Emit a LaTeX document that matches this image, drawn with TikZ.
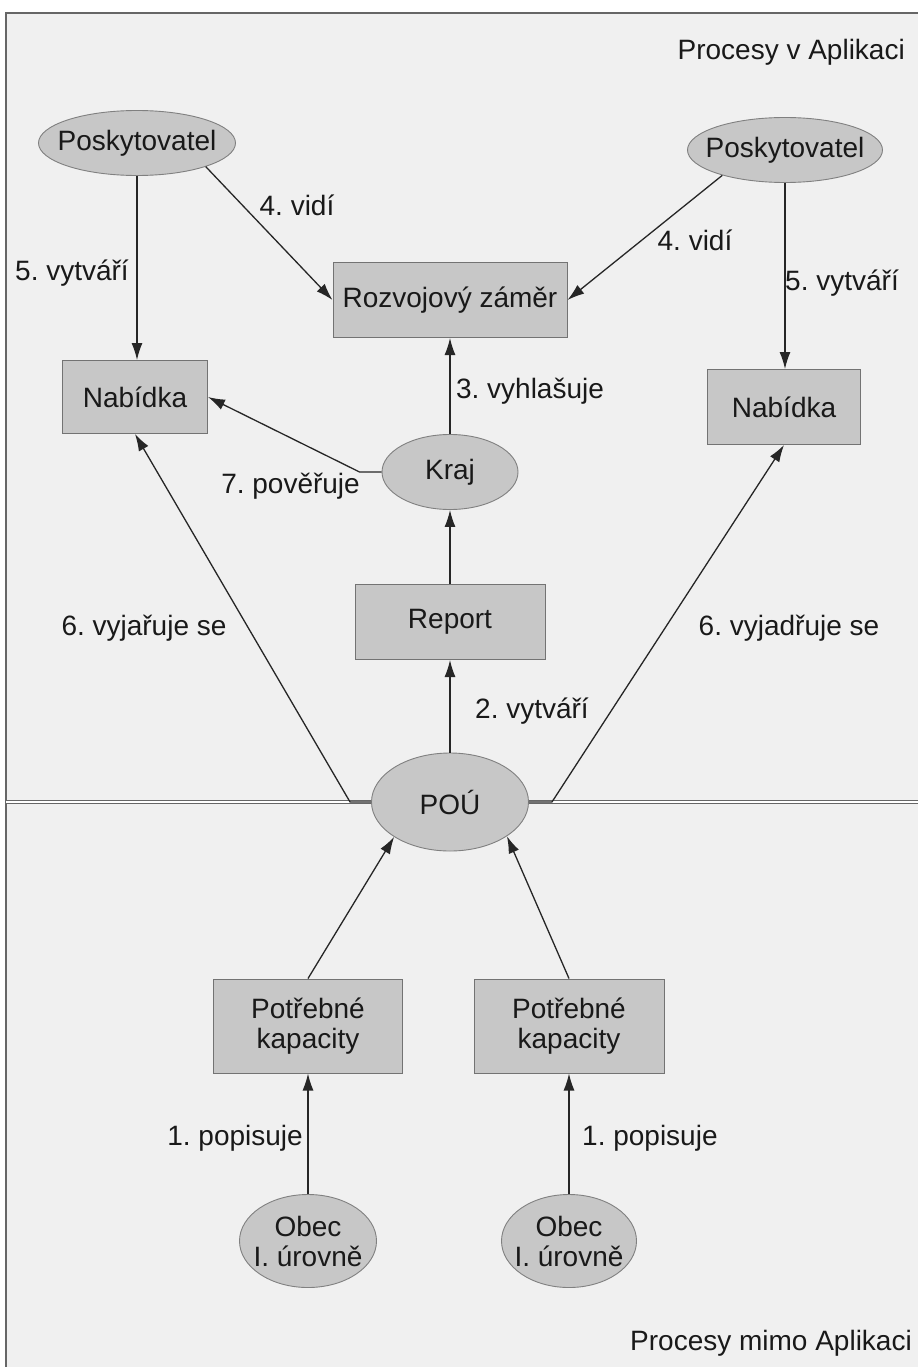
\documentclass[tikz,border=0pt]{standalone}
\usepackage{fontspec}
\setmainfont{Liberation Sans}
\frenchspacing
\usetikzlibrary{arrows.meta, shapes.geometric}

\tikzset{
  proc/.style = {ellipse, draw=black!50, line width=0.9pt, fill=black!22, inner sep=0pt},
  box/.style  = {rectangle, draw=black!55, line width=1pt, fill=black!22, inner sep=0pt, align=center},
  lbl/.style  = {inner sep=0pt, anchor=base},
  arr/.style  = {-{Latex[length=17pt,width=11pt]}, draw=black!85, line width=1.3pt},
}

\begin{document}
\begin{tikzpicture}[x=1pt, y=-1pt, font=\fontsize{28}{30}\selectfont, text=black!90]
\useasboundingbox (0,0) rectangle (918,1367);
% background and the border between the two parts
\fill[black!6] (6,13) rectangle (918,1367);
\draw[black!60, line width=1.2pt] (6,1367) -- (6,13) -- (918,13);
\draw[black!60, line width=1.1pt, double=white, double distance=2.2pt] (6,802) -- (918,802);

\node[lbl, anchor=base east] (tApp) at (905,60) {Procesy v Aplikaci};
\node[lbl, anchor=base east] (tOut) at (912,1350) {Procesy mimo Aplikaci};

% nodes
\node[proc, minimum width=197pt, minimum height=65pt, label=center:Poskytovatel] (posL) at (137,143) {};
\node[proc, minimum width=195pt, minimum height=65pt, label=center:Poskytovatel] (posR) at (785,150) {};
\node[box, minimum width=234pt, minimum height=75pt] (roz) at (450,300) {Rozvojový záměr};
\node[box, minimum width=145pt, minimum height=73pt] (nabL) at (135,397) {Nabídka};
\node[box, minimum width=153pt, minimum height=75pt] (nabR) at (784,407) {Nabídka};
\node[proc, minimum width=136pt, minimum height=75pt, label=center:Kraj] (kraj) at (450,472) {};
\node[box, minimum width=190pt, minimum height=75pt] (rep) at (450,622) {Report};
\node[proc, minimum width=157pt, minimum height=98pt, label=center:POÚ] (pou) at (450,802) {};
\node[box, minimum width=189pt, minimum height=94pt] (kapL) at (308,1026) {Potřebné\\kapacity};
\node[box, minimum width=190pt, minimum height=94pt] (kapR) at (569,1026) {Potřebné\\kapacity};
\node[proc, minimum width=137pt, minimum height=93pt, label={[align=center]center:Obec\\I. úrovně}] (obecL) at (308,1241) {};
\node[proc, minimum width=135pt, minimum height=93pt, label={[align=center]center:Obec\\I. úrovně}] (obecR) at (569,1241) {};

% connectors
\draw[arr] (posL) -- (posL |- nabL.north);
\draw[arr] (posR) -- (posR |- nabR.north);
\draw[arr] (posL.-19) -- (roz.west);
\draw[arr] (posR.202) -- (roz.east);
\draw[arr] (kraj) -- (roz);
\draw[arr] (rep) -- (kraj);
\draw[arr] (pou) -- (rep);
\draw[arr] (kraj.west) -- ++(-22,0) -- (nabL.east);
\draw[arr] (pou.west) -- ++(-21,0) -- (nabL.south);
\draw[arr] (pou.east) -- ++(23,0) -- (nabR.south);
\draw[arr] (kapL.north) -- (pou.212);
\draw[arr] (kapR.north) -- (pou.-31);
\draw[arr] (obecL) -- (kapL);
\draw[arr] (obecR) -- (kapR);

% labels
\node[lbl] (l4a) at (297,215) {4. vidí};
\node[lbl] (l4b) at (695,250) {4. vidí};
\node[lbl] (l5a) at (72,280) {5. vytváří};
\node[lbl] (l5b) at (842,290) {5. vytváří};
\node[lbl] (l3) at (530,398) {3. vyhlašuje};
\node[lbl, anchor=base east] (l7) at (360,493) {7. pověřuje};
\node[lbl] (l6a) at (144,635) {6. vyjařuje se};
\node[lbl] (l6b) at (789,635) {6. vyjadřuje se};
\node[lbl] (l2) at (532,718) {2. vytváří};
\node[lbl, anchor=base east] (l1a) at (303,1145) {1. popisuje};
\node[lbl, anchor=base west] (l1b) at (582,1145) {1. popisuje};
\end{tikzpicture}
\end{document}
